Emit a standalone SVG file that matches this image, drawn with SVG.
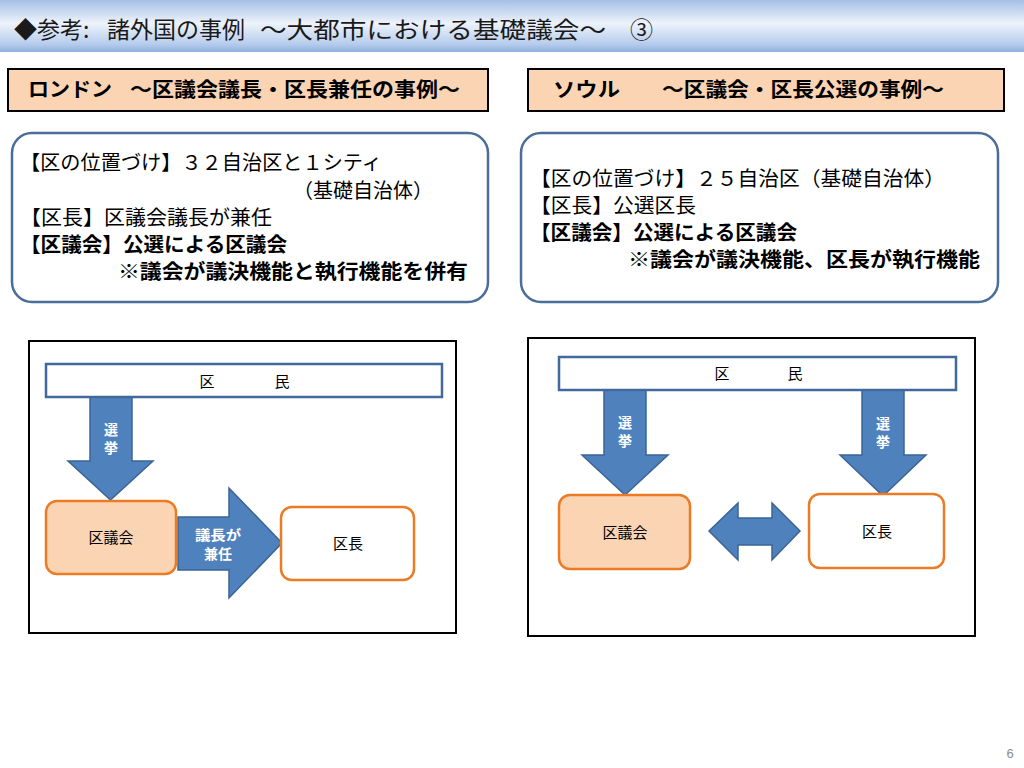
<svg xmlns="http://www.w3.org/2000/svg" width="1024" height="768" viewBox="0 0 1024 768">
<defs>
<linearGradient id="tg" x1="0" y1="0" x2="0" y2="1">
<stop offset="0" stop-color="#a5c0e5"/>
<stop offset="0.45" stop-color="#eef3fb"/>
<stop offset="0.85" stop-color="#b5ccec"/>
<stop offset="1" stop-color="#90b1e0"/>
</linearGradient>
<style>
text{font-family:"Noto Sans CJK JP","Liberation Sans",sans-serif;fill:#000}
.title{font-size:23px;fill:#1a1a1a}
.hdr{font-size:20px;font-weight:bold}
.body{font-size:20px}
.bold{font-size:20px;font-weight:bold}
.lbl{font-size:15px;text-anchor:middle}
.wlbl{font-size:14px;font-weight:bold;fill:#fff;text-anchor:middle}
.hbox{fill:#fbd4b4;stroke:#000;stroke-width:2}
.rbox{fill:#fff;stroke:#4a6e99;stroke-width:2.5}
.frame{fill:#fff;stroke:#000;stroke-width:2}
.bar{fill:#fff;stroke:#41699c;stroke-width:2.5}
.arrow{fill:#4f81bd;stroke:#3a6496;stroke-width:1.5}
.council{fill:#fbd4b4;stroke:#ec7b25;stroke-width:2.5}
.mayor{fill:#fff;stroke:#ec7b25;stroke-width:2.5}
</style>
</defs>
<rect width="1024" height="768" fill="#fff"/>
<g id="titlebar">
<rect x="0" y="0" width="1024" height="52" fill="url(#tg)"/>
<text class="title" x="14" y="38">◆参考:</text>
<text class="title" x="107" y="38">諸外国の事例</text>
<text class="title" x="260" y="38" textLength="346" lengthAdjust="spacingAndGlyphs">～大都市における基礎議会～</text>
<text class="title" x="630" y="38">③</text>
</g>
<g id="header-london">
<rect class="hbox" x="8" y="69" width="480" height="42"/>
<text class="hdr" x="28" y="97" textLength="84" lengthAdjust="spacingAndGlyphs">ロンドン</text>
<text class="hdr" x="130" y="97" textLength="330" lengthAdjust="spacingAndGlyphs">～区議会議長・区長兼任の事例～</text>
</g>
<g id="header-seoul">
<rect class="hbox" x="528" y="69" width="476" height="42"/>
<text class="hdr" x="553" y="97" textLength="67" lengthAdjust="spacingAndGlyphs">ソウル</text>
<text class="hdr" x="662" y="97" textLength="282" lengthAdjust="spacingAndGlyphs">～区議会・区長公選の事例～</text>
</g>
<g id="info-london">
<rect class="rbox" x="12" y="133" width="476" height="169" rx="20"/>
<text class="body" x="20" y="170" textLength="362" lengthAdjust="spacingAndGlyphs">【区の位置づけ】３２自治区と１シティ</text>
<text class="body" x="293" y="198" textLength="140" lengthAdjust="spacingAndGlyphs">（基礎自治体）</text>
<text class="body" x="20" y="225" textLength="252" lengthAdjust="spacingAndGlyphs">【区長】区議会議長が兼任</text>
<text class="bold" x="20" y="252" textLength="267" lengthAdjust="spacingAndGlyphs">【区議会】公選による区議会</text>
<text class="bold" x="118" y="279" textLength="350" lengthAdjust="spacingAndGlyphs">※議会が議決機能と執行機能を併有</text>
</g>
<g id="info-seoul">
<rect class="rbox" x="521" y="133" width="477" height="169" rx="20"/>
<text class="body" x="530" y="186" textLength="415" lengthAdjust="spacingAndGlyphs">【区の位置づけ】２５自治区（基礎自治体）</text>
<text class="body" x="530" y="213" textLength="166" lengthAdjust="spacingAndGlyphs">【区長】公選区長</text>
<text class="bold" x="530" y="240" textLength="267" lengthAdjust="spacingAndGlyphs">【区議会】公選による区議会</text>
<text class="bold" x="628" y="267" textLength="352" lengthAdjust="spacingAndGlyphs">※議会が議決機能、区長が執行機能</text>
</g>
<g id="frame-london"><rect class="frame" x="29" y="341" width="427" height="292"/></g>
<g id="frame-seoul"><rect class="frame" x="528" y="338" width="447" height="298"/></g>
<g id="connectors">
<path class="arrow" d="M90,397 H132 V461 H153 L110.5,500 L68,461 H90 Z"/>
<text class="wlbl" x="111" y="435">選<tspan x="111" dy="18">挙</tspan></text>
<path class="arrow" d="M178,517 H229 V488 L282,543 L229,598 V570 H178 Z"/>
<text class="wlbl" x="218" y="540" textLength="46" lengthAdjust="spacingAndGlyphs">議長が</text>
<text class="wlbl" x="218" y="559">兼任</text>
<path class="arrow" d="M604,390 H646 V455 H668 L625,495 L582,455 H604 Z"/>
<text class="wlbl" x="625" y="428">選<tspan x="625" dy="18">挙</tspan></text>
<path class="arrow" d="M862,390 H904 V455 H926 L883,496 L840,455 H862 Z"/>
<text class="wlbl" x="883" y="429">選<tspan x="883" dy="18">挙</tspan></text>
<path class="arrow" d="M709,531 L738,503 V518 H772 V503 L800,531 L772,560 V545 H738 V560 Z"/>
</g>
<g id="residents-london">
<rect class="bar" x="46" y="364" width="396" height="33"/>
<text class="lbl" x="207" y="387">区</text>
<text class="lbl" x="282" y="387">民</text>
</g>
<g id="council-london">
<rect class="council" x="46" y="501" width="130" height="73" rx="11"/>
<text class="lbl" x="111" y="543">区議会</text>
</g>
<g id="mayor-london">
<rect class="mayor" x="281" y="507" width="133" height="73" rx="11"/>
<text class="lbl" x="348" y="549">区長</text>
</g>
<g id="residents-seoul">
<rect class="bar" x="559" y="357" width="397" height="33"/>
<text class="lbl" x="722" y="379">区</text>
<text class="lbl" x="795" y="379">民</text>
</g>
<g id="council-seoul">
<rect class="council" x="559" y="495" width="131" height="74" rx="11"/>
<text class="lbl" x="625" y="538">区議会</text>
</g>
<g id="mayor-seoul">
<rect class="mayor" x="809" y="494" width="135" height="74" rx="11"/>
<text class="lbl" x="877" y="537">区長</text>
</g>
<text x="1010" y="758" style="font-size:13px;fill:#8c8c8c;font-family:'Liberation Sans',sans-serif" text-anchor="middle">6</text>
</svg>
